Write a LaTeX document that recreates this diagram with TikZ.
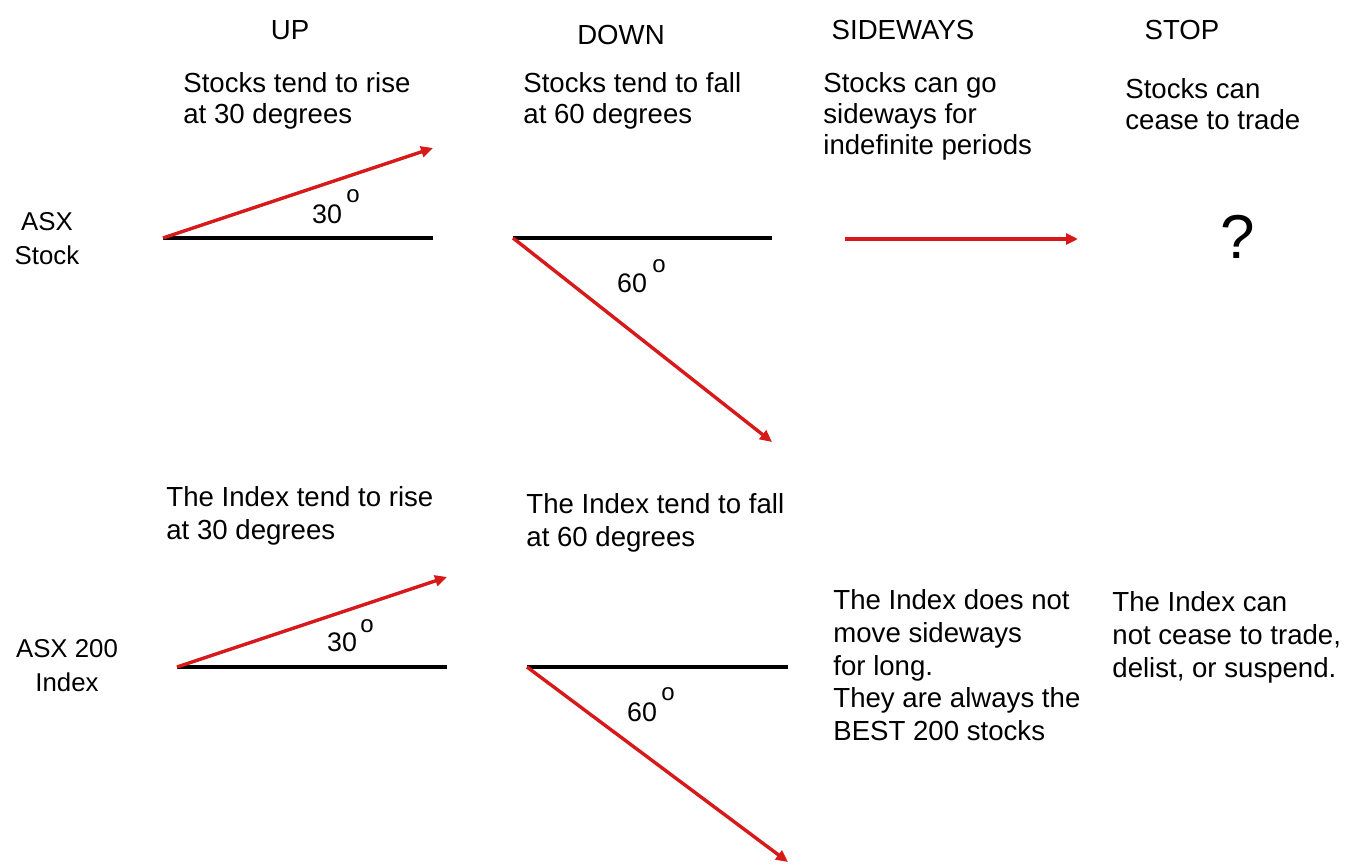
\documentclass[tikz,border=0pt]{standalone}
\usepackage{fontspec}
\setmainfont{Liberation Sans}
\usetikzlibrary{arrows.meta}
\definecolor{arrowred}{RGB}{215,25,25}
\tikzset{
  px/.style={x=0.5pt,y=-0.5pt},
  txt/.style={inner sep=0pt,anchor=north west,align=left,font=\fontsize{13.8pt}{15.5pt}\selectfont},
  txtb/.style={inner sep=0pt,anchor=north west,align=left,font=\fontsize{13.8pt}{16.4pt}\selectfont},
  head/.style={inner sep=0pt,font=\fontsize{13.8pt}{15pt}\selectfont},
  side/.style={inner sep=0pt,align=center,font=\fontsize{12.9pt}{17pt}\selectfont},
  deg/.style={inner sep=0pt,font=\fontsize{13.4pt}{15pt}\selectfont},
  degsup/.style={inner sep=0pt,font=\fontsize{12pt}{13pt}\selectfont},
  base/.style={line width=2pt,black},
  move/.style={line width=1.7pt,arrowred,-{Triangle[length=6pt,width=5.5pt]}}
}
\begin{document}
\begin{tikzpicture}[px]
\useasboundingbox (0,0) rectangle (1371,867);
% headers
\node[head] (hUp) at (290,30) {UP};
\node[head] (hDown) at (621,35) {DOWN};
\node[head] (hSide) at (903,30) {SIDEWAYS};
\node[head] (hStop) at (1182,30) {STOP};
% top descriptions
\node[txt] (t1) at (183,72) {Stocks tend to rise\\at 30 degrees};
\node[txt] (t2) at (523,72) {Stocks tend to fall\\at 60 degrees};
\node[txt] (t3) at (823,72) {Stocks can go\\sideways for\\indefinite periods};
\node[txt] (t4) at (1125,78) {Stocks can\\cease to trade};
% row labels
\node[side] (asx) at (47,239) {ASX\\Stock};
\node[side] (asx200) at (67,666) {ASX 200\\Index};
% top row: up
\coordinate (u1s) at (163,238);
\coordinate (u1e) at (433,238);
\coordinate (u1t) at (433,148);
\draw[base] (u1s) -- (u1e);
\draw[move] (u1s) -- (u1t);
\node[deg] (d30a) at (327,214) {30};
\node[degsup] (o30a) at (353,196) {o};
% top row: down
\coordinate (d1s) at (513,238);
\coordinate (d1e) at (772,238);
\coordinate (d1t) at (772,442);
\draw[base] (d1s) -- (d1e);
\draw[move] (d1s) -- (d1t);
\node[deg] (d60a) at (632,283) {60};
\node[degsup] (o60a) at (659,266) {o};
% top row: sideways
\coordinate (s1s) at (845,239);
\coordinate (s1t) at (1078,239);
\draw[move] (s1s) -- (s1t);
% top row: stop
\node[inner sep=0pt,font=\fontsize{31pt}{34pt}\selectfont] (q) at (1238,237) {?};
% bottom descriptions
\node[txtb] (b1) at (166,486) {The Index tend to rise\\at 30 degrees};
\node[txtb] (b2) at (526,493) {The Index tend to fall\\at 60 degrees};
\node[txtb] (b3) at (833,589) {The Index does not\\move sideways\\for long.\\They are always the\\BEST 200 stocks};
\node[txtb] (b4) at (1112,591) {The Index can\\not cease to trade,\\delist, or suspend.};
% bottom row: up
\coordinate (u2s) at (177,667);
\coordinate (u2e) at (447,667);
\coordinate (u2t) at (447,577);
\draw[base] (u2s) -- (u2e);
\draw[move] (u2s) -- (u2t);
\node[deg] (d30b) at (342,642) {30};
\node[degsup] (o30b) at (367,626) {o};
% bottom row: down
\coordinate (d2s) at (527,667);
\coordinate (d2e) at (788,667);
\coordinate (d2t) at (788,862);
\draw[base] (d2s) -- (d2e);
\draw[move] (d2s) -- (d2t);
\node[deg] (d60b) at (642,712) {60};
\node[degsup] (o60b) at (668,694) {o};
\end{tikzpicture}
\end{document}
